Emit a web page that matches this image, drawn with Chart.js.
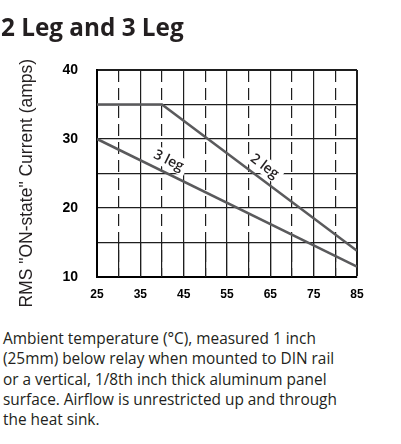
<!DOCTYPE html>
<html>
<head>
<meta charset="utf-8">
<script src="https://cdn.jsdelivr.net/npm/chart.js@4.4.1/dist/chart.umd.min.js"></script>
<style>
    body { margin: 0; background: #fff; }
    #wrap { position: relative; width: 401px; height: 444px; overflow: hidden; }
    #plot { position: absolute; left: 0; top: 0; }
    h2 {
        position: absolute; left: 1px; top: 15px; margin: 0;
        font: 700 24.3px/24px "Open Sans"; color: #231f20; white-space: nowrap;
    }
    p {
        position: absolute; left: 3px; top: 329px; margin: 0;
        font: 15.4px/20.3px "Open Sans"; color: #231f20; white-space: nowrap;
    }
</style>
</head>
<body>
<div id="wrap">
    <canvas id="plot" width="401" height="320"></canvas>
    <h2>2 Leg and 3 Leg</h2>
    <p>Ambient temperature (°C), measured 1 inch<br>(25mm) below relay when mounted to DIN rail<br>or a vertical, 1/8th inch thick aluminum panel<br>surface. Airflow is unrestricted up and through<br>the heat sink.</p>
</div>
<script>
    // data
    const temps2Leg = [25, 40, 85];
    const amps2Leg = [35, 35, 13.8];
    const temps3Leg = [25, 85];
    const amps3Leg = [30, 11.5];
    const seriesNames = ['2 leg', '3 leg'];

    const xTickLabels = [25, 35, 45, 55, 65, 75, 85];
    const yTickLabels = [10, 20, 30, 40];
    // trailing no-break spaces nudge the centred title down a little
    const yTitle = 'RMS "ON-state" Current (amps)\u00a0\u00a0\u00a0\u00a0';

    const gridColor = '#1e1e1e';
    const curveColor = '#5a5a5c';
    const labelFont = '600 14px "Open Sans"';

    function toPoints(xs, ys) {
        return xs.map(function (x, i) { return { x: x, y: ys[i] }; });
    }

    // where a curve's name sits: on the curve at ds.labelAt, pushed off it
    function labelSpot(chart, i) {
        const ds = chart.data.datasets[i];
        const pts = chart.getDatasetMeta(i).data;
        const xPix = chart.scales.x.getPixelForValue(ds.labelAt);
        let a = pts[0], b = pts[1];
        for (let k = 0; k < pts.length - 1; k++) {
            if (xPix >= pts[k].x && xPix <= pts[k + 1].x) { a = pts[k]; b = pts[k + 1]; }
        }
        const angle = Math.atan2(b.y - a.y, b.x - a.x);
        const yPix = a.y + (b.y - a.y) * (xPix - a.x) / (b.x - a.x);
        const off = 12;
        return {
            x: xPix + Math.sin(angle) * off,
            y: yPix - Math.cos(angle) * off,
            angle: angle,
            text: ds.label
        };
    }

    const curveLabels = {
        id: 'curveLabels',
        beforeDatasetsDraw(chart) {
            // white patch behind each name so the grid does not run through it
            const ctx = chart.ctx;
            chart.data.datasets.forEach(function (ds, i) {
                const s = labelSpot(chart, i);
                ctx.save();
                ctx.font = labelFont;
                const w = ctx.measureText(s.text).width + 8;
                ctx.translate(s.x, s.y);
                ctx.rotate(s.angle);
                ctx.fillStyle = '#fff';
                ctx.fillRect(-w / 2, -9, w, 17);
                ctx.restore();
            });
        },
        afterDatasetsDraw(chart) {
            const ctx = chart.ctx;
            chart.data.datasets.forEach(function (ds, i) {
                const s = labelSpot(chart, i);
                ctx.save();
                ctx.translate(s.x, s.y);
                ctx.rotate(s.angle);
                ctx.font = labelFont;
                ctx.fillStyle = '#231f20';
                ctx.textAlign = 'center';
                ctx.textBaseline = 'middle';
                ctx.fillText(s.text, 0, 0);
                ctx.restore();
            });
        }
    };

    // bottom row of the grid has solid lines at every 5 degrees
    const bottomRow = {
        id: 'bottomRow',
        beforeDatasetsDraw(chart) {
            const { ctx, chartArea, scales: { x, y } } = chart;
            const rowTop = y.getPixelForValue(y.ticks[1].value);
            const lw = 1.2;
            ctx.save();
            ctx.strokeStyle = gridColor;
            ctx.lineWidth = lw;
            x.ticks.forEach(function (t) {
                if (t.value <= x.min || t.value >= x.max) return;
                // same pixel snapping as the library's own grid lines
                const px = Math.round(x.getPixelForValue(t.value) - lw / 2) + lw / 2;
                ctx.beginPath();
                ctx.moveTo(px, rowTop);
                ctx.lineTo(px, chartArea.bottom);
                ctx.stroke();
            });
            ctx.restore();
        }
    };

    new Chart('plot', {
        type: 'line',
        data: {
            datasets: [
                { label: seriesNames[0], data: toPoints(temps2Leg, amps2Leg), labelAt: 62 },
                { label: seriesNames[1], data: toPoints(temps3Leg, amps3Leg), labelAt: 40.3 }
            ]
        },
        options: {
            responsive: false,
            animation: false,
            events: [],
            layout: { padding: { top: 70, right: 44, left: 0, bottom: 0 } },
            elements: {
                point: { radius: 0 },
                line: { borderColor: curveColor, borderWidth: 2.6, tension: 0 }
            },
            plugins: {
                legend: { display: false },
                tooltip: { enabled: false }
            },
            scales: {
                x: {
                    type: 'linear',
                    min: 25,
                    max: 85,
                    afterFit: function (axis) { axis.height = 43; },
                    ticks: {
                        stepSize: 5,
                        autoSkip: false,
                        maxRotation: 0,
                        padding: 10,
                        color: '#000',
                        font: { family: '"Liberation Sans", Arial', size: 12, weight: 'bold' },
                        callback: function (v) { return xTickLabels.includes(v) ? String(v) : ''; }
                    },
                    grid: {
                        drawTicks: false,
                        color: gridColor,
                        lineWidth: function (c) { return c.tick && c.tick.value === 85 ? 2 : 1.2; }
                    },
                    border: {
                        display: true,
                        color: '#000',
                        width: 2,
                        dash: function (c) {
                            if (!c.tick) return [];
                            const v = c.tick.value;
                            return v % 10 === 0 && v > 25 && v < 85 ? [12, 6] : [];
                        }
                    }
                },
                y: {
                    type: 'linear',
                    min: 10,
                    max: 40,
                    afterFit: function (axis) { axis.width = 97; },
                    title: {
                        display: true,
                        text: yTitle,
                        color: '#231f20',
                        padding: { top: 17, bottom: 0 },
                        font: { family: '"Liberation Sans", Arial', size: 17.5, weight: 'normal' }
                    },
                    ticks: {
                        stepSize: 5,
                        padding: 19,
                        color: '#000',
                        font: { family: '"Liberation Sans", Arial', size: 14, weight: 'bold' },
                        callback: function (v) { return yTickLabels.includes(v) ? String(v) : ''; }
                    },
                    grid: {
                        drawTicks: false,
                        color: gridColor,
                        lineWidth: function (c) { return c.tick && c.tick.value === 40 ? 2 : 1.2; }
                    },
                    border: { display: true, color: '#000', width: 2 }
                }
            }
        },
        plugins: [bottomRow, curveLabels]
    });
</script>
</body>
</html>
